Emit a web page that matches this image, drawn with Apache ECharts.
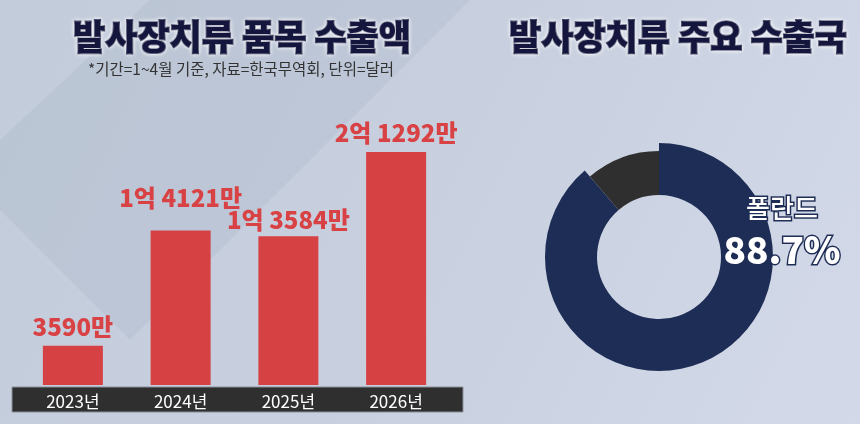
<!DOCTYPE html>
<html><head><meta charset="utf-8">
<script src="https://cdn.jsdelivr.net/npm/echarts@6/dist/echarts.min.js"></script>
<style>html,body{margin:0;padding:0;}#c{width:860px;height:424px;}</style>
</head><body><div id="c"></div>
<script>
const years = ['2023년','2024년','2025년','2026년'];
const exportValues = [3590, 14121, 13584, 21292]; // 단위: 만 달러
const valueLabels = ['3590만','1억 4121만','1억 3584만','2억 1292만'];
const countries = ['폴란드','기타'];
const shares = [88.7, 11.3];

const KR = '"Noto Sans CJK KR", "Noto Sans", sans-serif';
const titleStyle = {fontFamily:KR, fontSize:35, fontWeight:900, color:'#15163d',
  textBorderColor:'#15163d', textBorderWidth:1.6, textShadowColor:'rgba(255,255,255,1)', textShadowBlur:4, lineHeight:42};
const labelShift = {1: -14, 2: 3};
const chart = echarts.init(document.getElementById('c'));
chart.setOption({
  animation: false,
  backgroundColor: new echarts.graphic.LinearGradient(0,0,1,1,[
    {offset:0,color:'#c3ccdb'},{offset:0.5,color:'#c8d0df'},{offset:1,color:'#d3d9e8'}]),
  graphic: [
    {type:'polygon', z:-10, shape:{points:[[150,0],[470,0],[130,340],[0,210],[0,140]]}, style:{fill:'rgba(150,165,185,0.18)'}},
    {type:'rect', z:0, shape:{x:12,y:387,width:451,height:25}, style:{fill:'#2f2f2f', stroke:'#8a8f99', lineWidth:1}}
  ],
  title: [
    {text:'발사장치류 품목 수출액', left:237, top:11, textAlign:'center', textStyle:titleStyle},
    {text:'*기간=1~4월 기준, 자료=한국무역회, 단위=달러', left:236, top:56, textAlign:'center',
     textStyle:{fontFamily:KR, fontSize:15.5, fontWeight:400, color:'#333333'}},
    {text:'발사장치류 주요 수출국', left:673, top:11, textAlign:'center', textStyle:titleStyle},
    {text:'{a|' + countries[0] + '}\n{b|' + shares[0] + '%}', left:777, top:184, textAlign:'center',
     textStyle:{rich:{
       a:{fontFamily:KR, fontSize:26, fontWeight:500, color:'#ffffff', textBorderColor:'#1e2d55', textBorderWidth:3, lineHeight:38, align:'center'},
       b:{fontFamily:KR, fontSize:37, fontWeight:900, color:'#ffffff', textBorderColor:'#1e2d55', textBorderWidth:3, lineHeight:46, align:'center'}}}}
  ],
  grid: {left:19, width:431, top:152, bottom:39, containLabel:false},
  xAxis: {type:'category', data:years,
    axisLine:{show:false}, axisTick:{show:false},
    axisLabel:{color:'#ffffff', fontFamily:KR, fontSize:17, margin:8}},
  yAxis: {type:'value', min:0, max:21292, show:false, splitLine:{show:false}},
  series: [
    {type:'bar', data:exportValues, barWidth:60, z:2,
     itemStyle:{color:'#d64143'},
     labelLayout: p => ({dy: labelShift[p.dataIndex] || 0}),
     label:{show:true, position:'top', distance:7, formatter:p=>valueLabels[p.dataIndex],
       fontFamily:KR, fontSize:24, fontWeight:900, color:'#d94244'}},
    {type:'pie', center:[659,257], radius:[62,114], startAngle:90, clockwise:true,
     label:{show:false}, labelLine:{show:false}, silent:true,
     data:[{name:countries[0], value:shares[0], itemStyle:{color:'#1e2d55'}},
           {name:countries[1], value:shares[1], itemStyle:{color:'rgba(0,0,0,0)'}}]},
    {type:'pie', center:[659,257], radius:[62,106], startAngle:90, clockwise:true,
     label:{show:false}, labelLine:{show:false}, silent:true,
     data:[{name:countries[0], value:shares[0], itemStyle:{color:'rgba(0,0,0,0)'}},
           {name:countries[1], value:shares[1], itemStyle:{color:'#2f2f2f'}}]}
  ]
});
</script></body></html>
